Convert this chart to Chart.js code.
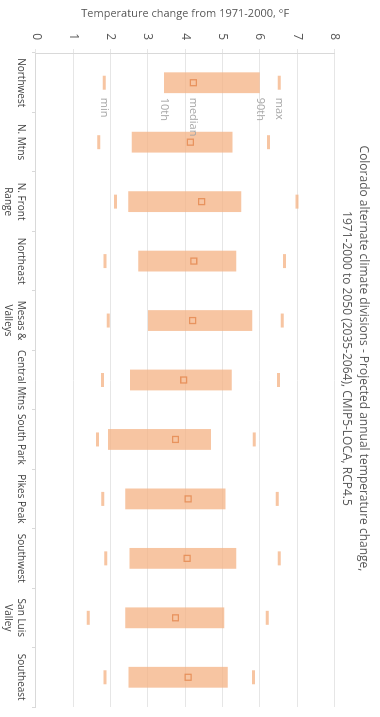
<!DOCTYPE html>
<html lang="en">
<head>
    <meta charset="UTF-8">
    <title>Colorado alternate climate divisions - projected temperature change</title>
    <script src="https://cdn.jsdelivr.net/npm/chart.js"></script>
    <style>
        body { margin: 0; background: #fff; width: 380px; height: 717px; overflow: hidden; position: relative; }
        /* chart is drawn landscape, then turned a quarter turn clockwise */
        #wrap {
            position: absolute; left: 0; top: 0;
            width: 717px; height: 380px;
            transform-origin: 0 0;
            transform: translate(380px, 0) rotate(90deg);
        }
    </style>
</head>
<body>
    <div id="wrap">
        <canvas id="tempChart" width="717" height="380"></canvas>
    </div>

    <script>
        // Data (°F change vs 1971-2000)
        const divisions = ['Northwest', 'N. Mtns', ['N. Front', 'Range'], 'Northeast', ['Mesas &', 'Valleys'],
            'Central Mtns', 'South Park', 'Pikes Peak', 'Southwest', ['San Luis', 'Valley'], 'Southeast'];
        const minVals    = [1.83, 1.68, 2.13, 1.85, 1.94, 1.78, 1.65, 1.79, 1.87, 1.40, 1.85];
        const p10Vals    = [3.43, 2.57, 2.47, 2.74, 3.00, 2.52, 1.93, 2.39, 2.51, 2.39, 2.48];
        const medianVals = [4.22, 4.14, 4.44, 4.23, 4.20, 3.96, 3.74, 4.08, 4.05, 3.74, 4.08];
        const p90Vals    = [6.00, 5.27, 5.50, 5.37, 5.80, 5.25, 4.69, 5.08, 5.37, 5.05, 5.14];
        const maxVals    = [6.52, 6.23, 7.00, 6.66, 6.60, 6.50, 5.85, 6.47, 6.52, 6.20, 5.83];
        const keyLabels  = ['min', '10th', 'median', '90th', 'max'];

        const peach = 'rgba(244,177,131,0.75)';
        Chart.defaults.font.family = '"Open Sans", sans-serif';

        // grey key labels next to the first division
        const keyPlugin = {
            id: 'keyLabels',
            afterDatasetsDraw(chart) {
                const { ctx, scales } = chart;
                const vals = [minVals[0], p10Vals[0], medianVals[0], p90Vals[0], maxVals[0]];
                const x = scales.x.getPixelForValue(0) + 15;
                ctx.save();
                ctx.font = '11px "Open Sans", sans-serif';
                ctx.fillStyle = '#a6a6a6';
                ctx.textAlign = 'left';
                ctx.textBaseline = 'middle';
                keyLabels.forEach((t, i) => ctx.fillText(t, x, scales.y.getPixelForValue(vals[i])));
                ctx.restore();
            }
        };

        new Chart(document.getElementById('tempChart'), {
            type: 'bar',
            data: {
                labels: divisions,
                datasets: [
                    {
                        type: 'line', label: 'median', data: medianVals, order: 0,
                        showLine: false, pointStyle: 'rect', pointRadius: 4.2,
                        pointBorderWidth: 1.3, pointBorderColor: 'rgba(225,125,65,0.7)',
                        pointBackgroundColor: 'rgba(0,0,0,0)'
                    },
                    {
                        type: 'line', label: 'min', data: minVals, order: 1,
                        showLine: false, pointStyle: 'line', pointRadius: 7,
                        pointBorderWidth: 3, pointBorderColor: peach
                    },
                    {
                        type: 'line', label: 'max', data: maxVals, order: 1,
                        showLine: false, pointStyle: 'line', pointRadius: 7,
                        pointBorderWidth: 3, pointBorderColor: peach
                    },
                    {
                        label: '10th-90th', order: 2,
                        data: p10Vals.map((v, i) => [v, p90Vals[i]]),
                        backgroundColor: peach, borderWidth: 0,
                        barPercentage: 0.35, categoryPercentage: 1
                    }
                ]
            },
            options: {
                responsive: false,
                animation: false,
                devicePixelRatio: 1,
                layout: { padding: 0 },
                plugins: {
                    legend: { display: false },
                    tooltip: { enabled: false },
                    title: {
                        display: true,
                        text: ['Colorado alternate climate divisions - Projected annual temperature change,',
                               '1971-2000 to 2050 (2035-2064), CMIP5-LOCA, RCP4.5'],
                        color: '#595959',
                        font: { size: 12, weight: 'normal', lineHeight: 1.4 },
                        padding: { top: 8, bottom: 4 }
                    }
                },
                scales: {
                    x: {
                        grid: { offset: true, drawOnChartArea: false, tickLength: 4, color: '#d9d9d9' },
                        border: { color: '#d9d9d9' },
                        ticks: { color: '#404040', font: { size: 10, lineHeight: 1.35 }, padding: 4,
                                 maxRotation: 0, autoSkip: false },
                        afterFit(scale) { scale.height = 36; }
                    },
                    y: {
                        min: 0, max: 8,
                        grid: { color: '#e6e6e6', tickLength: 4 },
                        border: { color: '#d9d9d9' },
                        ticks: { stepSize: 1, color: '#595959', font: { size: 12 }, padding: 9 },
                        title: {
                            display: true, text: 'Temperature change from 1971-2000, °F',
                            color: '#595959', font: { size: 11 }, padding: { top: 7, bottom: 0 }
                        },
                        afterFit(scale) { scale.width = 53; }
                    }
                }
            },
            plugins: [keyPlugin]
        });
    </script>
</body>
</html>
